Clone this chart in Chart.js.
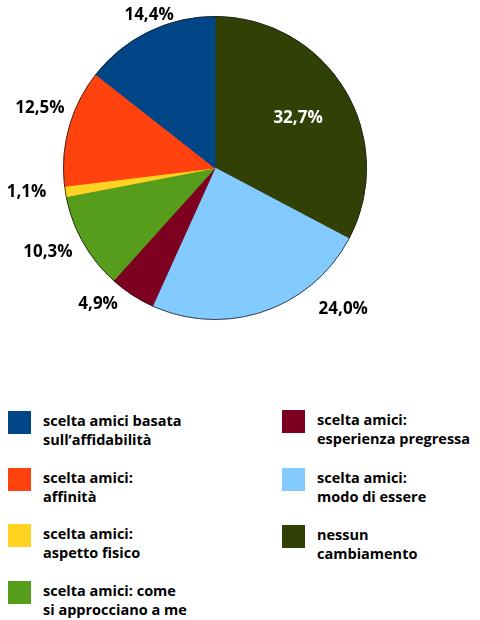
<!DOCTYPE html>
<html>
<head>
<meta charset="utf-8">
<script src="https://cdn.jsdelivr.net/npm/chart.js@4"></script>
<style>
  body { margin: 0; background: #fff; width: 480px; height: 620px; position: relative; overflow: hidden; }
  #wrap { position: absolute; left: 0; top: 0; width: 480px; height: 340px; }
  .item { position: absolute; font-family: "Open Sans", sans-serif; font-weight: 700; font-size: 14.5px; line-height: 19px; color: #000; }
  .box { position: absolute; width: 23px; height: 23px; }
  .txt { position: absolute; left: 35px; top: 0px; white-space: nowrap; }
</style>
</head>
<body>
<div id="wrap"><canvas id="pie"></canvas></div>
<div id="legend"></div>
<script>
// categories, in drawing order (clockwise from 12 o'clock)
var labels = [
    ['nessun', 'cambiamento'],
    ['scelta amici:', 'modo di essere'],
    ['scelta amici:', 'esperienza pregressa'],
    ['scelta amici: come', 'si approcciano a me'],
    ['scelta amici:', 'aspetto fisico'],
    ['scelta amici:', 'affinità'],
    ['scelta amici basata', 'sull\u2019affidabilità']
];
var values = [32.7, 24.0, 4.9, 10.3, 1.1, 12.5, 14.4];
var colors = ['#314004', '#83caff', '#7e0021', '#579d1c', '#ffd320', '#ff420e', '#004586'];

// legend order as in the picture: left column then right column
var legendOrder = [6, 5, 4, 3, 2, 1, 0];

// nudges for the value labels, relative to the radial spot
var labelNudge = [[0, 0], [72, -23], [-22, -9], [-16, -1], [-17, -3], [-8, -13], [10, 3]];

var pieLabels = {
    id: 'pieLabels',
    afterDatasetsDraw: function (chart) {
        var ctx = chart.ctx;
        var meta = chart.getDatasetMeta(0);
        var first = meta.data[0];
        ctx.save();
        // thin outline round the pie
        ctx.beginPath();
        ctx.arc(first.x, first.y, first.outerRadius, 0, Math.PI * 2);
        ctx.strokeStyle = '#222';
        ctx.lineWidth = 0.8;
        ctx.stroke();

        ctx.font = 'bold 17px "Open Sans"';
        ctx.textAlign = 'center';
        ctx.textBaseline = 'middle';
        meta.data.forEach(function (arc, i) {
            var p = arc.getProps(['x', 'y', 'startAngle', 'endAngle', 'outerRadius'], true);
            var mid = (p.startAngle + p.endAngle) / 2;
            var d = i === 0 ? p.outerRadius * 0.64 : p.outerRadius + 22;
            var x = p.x + Math.cos(mid) * d + labelNudge[i][0];
            var y = p.y + Math.sin(mid) * d + labelNudge[i][1];
            var text = values[i].toFixed(1).replace('.', ',') + '%';
            ctx.fillStyle = i === 0 ? '#fff' : '#000';
            ctx.fillText(text, x, y);
        });
        ctx.restore();
    }
};

var ctx = document.getElementById('pie').getContext('2d');
new Chart(ctx, {
    type: 'pie',
    data: {
        labels: labels.map(function (l) { return l.join(' '); }),
        datasets: [{
            data: values,
            backgroundColor: colors,
            borderColor: colors,
            borderWidth: 1
        }]
    },
    options: {
        responsive: true,
        maintainAspectRatio: false,
        animation: false,
        radius: 151.5,
        layout: { padding: { left: 0, right: 50, top: 0, bottom: 4 } },
        plugins: {
            legend: { display: false },
            tooltip: { enabled: false }
        }
    },
    plugins: [pieLabels]
});

// HTML legend
var legend = document.getElementById('legend');
legendOrder.forEach(function (idx, n) {
    var col = n < 4 ? 0 : 1;
    var row = col === 0 ? n : n - 4;
    var item = document.createElement('div');
    item.className = 'item';
    item.style.left = (col === 0 ? 8 : 282) + 'px';
    item.style.top = (col === 0 ? 411 + row * 56.5 : 410 + row * 57.5) + 'px';
    var box = document.createElement('div');
    box.className = 'box';
    box.style.background = colors[idx];
    var txt = document.createElement('div');
    txt.className = 'txt';
    txt.innerHTML = labels[idx].join('<br>');
    item.appendChild(box);
    item.appendChild(txt);
    legend.appendChild(item);
});
</script>
</body>
</html>
